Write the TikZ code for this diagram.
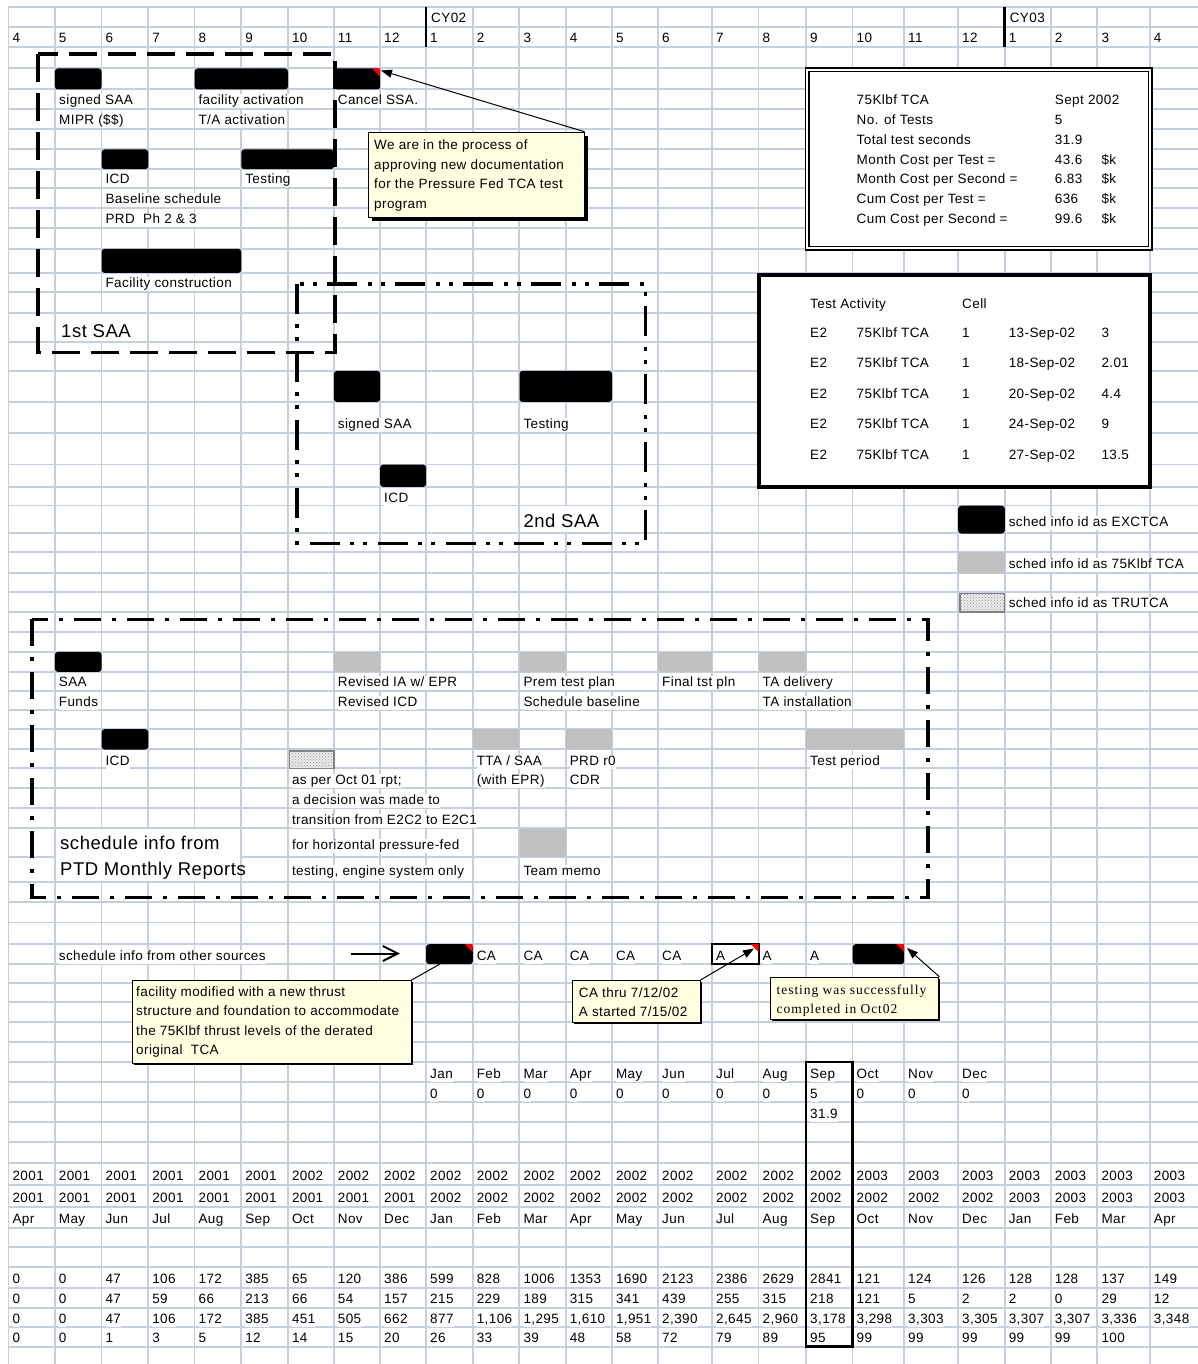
\documentclass[tikz,border=0pt]{standalone}
\usepackage{fontspec}
\setmainfont{Liberation Sans}[LetterSpace=3]
\newfontfamily\serifx{Liberation Serif}[LetterSpace=7]
\usetikzlibrary{arrows.meta,patterns}
\definecolor{gridc}{RGB}{198,207,224}
\definecolor{notey}{RGB}{255,255,225}
\definecolor{barg}{RGB}{192,192,192}
\newcommand\fs{\fontsize{13.5}{16}\selectfont}
\newcommand\fbig{\fontsize{18.5}{22}\selectfont}
\newcommand\fser{\serifx\fontsize{13.5}{16}\selectfont}
\newcounter{tn}
\newcommand\putt[3]{\stepcounter{tn}\node[txt] (t\arabic{tn}) at (#1,#2) {#3};}
\newcommand\putn[3]{\stepcounter{tn}\node[ntxt] (t\arabic{tn}) at (#1,#2) {#3};}
\newcommand\putbig[3]{\stepcounter{tn}\node[bigtxt] (t\arabic{tn}) at (#1,#2) {#3};}
\newcommand\putbar[6]{\node[#2, minimum width=#5pt-#3pt, minimum height=#6pt-#4pt] (#1) at (#3,#4) {};}
\newcommand\flagat[2]{\fill[red] (#1-8,#2) -- (#1,#2) -- (#1,#2+8) -- cycle;}
\def\colx{{8.4,54.7,101.4,148.1,194.4,241.1,287.8,333.7,380,426,472.6,519.3,565.6,611.8,658,711.9,758.5,806,852.5,904,958,1004.6,1050.7,1097.3,1149.7}}
\begin{document}
\begin{tikzpicture}[x=1pt,y=-1pt,
 gridl/.style={draw=gridc, line width=1.8pt},
 txt/.style={anchor=base west, inner sep=0pt, font=\fs, fill=white, text height=10.5pt, text depth=3.5pt},
 ntxt/.style={anchor=base west, inner sep=0pt, font=\fs},
 bigtxt/.style={anchor=base west, inner sep=0pt, font=\fbig},
 blk/.style={fill=black, rounded corners=3pt, inner sep=0pt, anchor=north west},
 gry/.style={fill=barg, rounded corners=2pt, inner sep=0pt, anchor=north west},
 patb/.style={draw=black!50, line width=1.5pt, fill=black!8, postaction={pattern=crosshatch dots, pattern color=black!40}, inner sep=0pt, anchor=north west},
 note/.style={draw=black, line width=1pt, fill=notey, inner sep=0pt, anchor=north west},
 pointer/.style={draw=black, line width=1pt, -{Triangle[length=11pt,width=8pt]}},
 boxl/.style={draw=black, inner sep=0pt, anchor=north west, fill=white}]
\useasboundingbox (0,0) rectangle (1198,1364);
\fill[white] (0,0) rectangle (1198,1364);
% ---------- grid ----------
\foreach \x in {8.4,54.7,101.4,148.1,194.4,241.1,287.8,333.7,380,426,472.6,519.3,565.6,611.8,658,711.9,758.5,806,852.5,904,958,1004.6,1050.7,1097.3,1149.7}
  \draw[gridl] (\x,7.3) -- (\x,1364);
\foreach \y in {7.3,26.7,46.7,68.3,89.3,109.3,129.3,149.3,169,188.3,208.3,228.3,248.7,272.7,292,312.7,341.7,370.7,401.7,433.3,464.5,486.7,505.5,533.3,552,573.3,591.7,611.7,631.7,651.7,671.7,691,710,729,749.3,768.3,788.3,808.3,828.3,856.7,881.7,901.7,922.5,944,964,983,1002,1022,1042,1062,1082,1102,1122,1142,1163.3,1185,1206.7,1228.3,1246.7,1266.7,1288.3,1308.3,1326.7,1346.7}
  \draw[gridl] (8.4,\y) -- (1198,\y);
\draw[line width=2.5pt] (426,7.3) -- (426,46.7);
\draw[line width=2.5pt] (1004.6,7.3) -- (1004.6,46.7);
% white label areas
\fill[white] (55.6,313.6) rectangle (147.2,340.8);
\fill[white] (520.2,506.4) rectangle (610.9,532.4);
\fill[white] (55.6,829.2) rectangle (240.2,880.8);
% ---------- header ----------
\putt{431}{22.2}{CY02}
\putt{1009.6}{22.2}{CY03}
\foreach \v [count=\i from 0] in {4,5,6,7,8,9,10,11,12,1,2,3,4,5,6,7,8,9,10,11,12,1,2,3,4}
  {\pgfmathsetmacro\xx{\colx[\i]+4}\node[txt] (hd\i) at (\xx,42.2) {\v};}
% ---------- boxes ----------
\node[boxl, double, double distance=2pt, line width=1.5pt, minimum width=342.8pt, minimum height=178.7pt] (stats) at (806.5,69) {};
\node[boxl, line width=3.5pt, minimum width=391.3pt, minimum height=211.7pt] (tests) at (757,273.3) {};
% ---------- bars: 1st SAA ----------
\putbar{sbar1}{blk}{54.7}{68.3}{101.4}{89.3}
\putbar{fbar}{blk}{194.4}{68.3}{287.8}{89.3}
\putbar{cbar}{blk}{333.7}{68.3}{380}{89.3}
\putbar{icd1}{blk}{101.4}{149.3}{148.1}{169}
\putbar{test1}{blk}{241.1}{149.3}{333.7}{169}
\putbar{fcon}{blk}{101.4}{248.7}{241.1}{272.7}
% 2nd SAA
\putbar{sbar2}{blk}{333.7}{370.7}{380}{401.7}
\putbar{test2}{blk}{519.3}{370.7}{611.8}{401.7}
\putbar{icd2}{blk}{380}{464.5}{426}{486.7}
% legend
\putbar{lg1}{blk}{958}{505.5}{1004.6}{533.3}
\putbar{lg2}{gry}{958}{552}{1004.6}{573.3}
\putbar{lg3}{patb}{959}{592.5}{1003.8}{611}
% PTD
\putbar{saa3}{blk}{54.7}{651.7}{101.4}{671.7}
\putbar{g1}{gry}{333.7}{651.7}{380}{671.7}
\putbar{g2}{gry}{519.3}{651.7}{565.6}{671.7}
\putbar{g3}{gry}{658}{651.7}{711.9}{671.7}
\putbar{g4}{gry}{758.5}{651.7}{806}{671.7}
\putbar{icd3}{blk}{101.4}{729}{148.1}{749.3}
\putbar{tru}{patb}{288.6}{750}{333}{767.6}
\putbar{g5}{gry}{472.6}{729}{519.3}{749.3}
\putbar{g6}{gry}{565.6}{729}{611.8}{749.3}
\putbar{g7}{gry}{806}{729}{904}{749.3}
\putbar{g8}{gry}{519.3}{828.3}{565.6}{856.7}
% other sources
\putbar{ob1}{blk}{426}{944}{472.6}{964}
\putbar{ob2}{blk}{852.5}{944}{904}{964}
\flagat{380}{68.3}
\flagat{472.6}{944}
\flagat{904}{944}
% ---------- texts: 1st SAA ----------
\putt{59}{104.8}{signed SAA}
\putt{59}{124.8}{MIPR (\$\$)}
\putt{198.4}{104.8}{facility activation}
\putt{198.4}{124.8}{T/A activation}
\putt{337.7}{104.8}{Cancel SSA.}
\putt{105.4}{183.8}{ICD}
\putt{105.4}{203.8}{Baseline schedule}
\putt{105.4}{223.8}{PRD\ \ Ph 2 \& 3}
\putt{245.1}{183.8}{Testing}
\putt{105.4}{287.5}{Facility construction}
\putbig{61}{337}{1st SAA}
% stats
\putt{856.5}{104.8}{75Klbf TCA}
\putt{1054.7}{104.8}{Sept 2002}
\putt{856.5}{124.8}{No. of Tests}
\putt{1054.7}{124.8}{5}
\putt{856.5}{144.8}{Total test seconds}
\putt{1054.7}{144.8}{31.9}
\putt{856.5}{164.5}{Month Cost per Test =}
\putt{1054.7}{164.5}{43.6}
\putt{1101.3}{164.5}{\$k}
\putt{856.5}{183.8}{Month Cost per Second =}
\putt{1054.7}{183.8}{6.83}
\putt{1101.3}{183.8}{\$k}
\putt{856.5}{203.8}{Cum Cost per Test =}
\putt{1054.7}{203.8}{636}
\putt{1101.3}{203.8}{\$k}
\putt{856.5}{223.8}{Cum Cost per Second =}
\putt{1054.7}{223.8}{99.6}
\putt{1101.3}{223.8}{\$k}
% test activity
\putt{810}{308}{Test Activity}
\putt{962}{308}{Cell}
\foreach \yy/\dd/\vv [count=\k] in {337/13-Sep-02/3, 367/18-Sep-02/2.01, 398/20-Sep-02/4.4, 428/24-Sep-02/9, 459/27-Sep-02/13.5}{
  \node[txt] (ta\k) at (810,\yy) {E2};
  \node[txt] (tb\k) at (856.5,\yy) {75Klbf TCA};
  \node[txt] (tc\k) at (962,\yy) {1};
  \node[txt] (td\k) at (1008.6,\yy) {\dd};
  \node[txt] (te\k) at (1101.3,\yy) {\vv};
}
% 2nd SAA
\putt{337.7}{428}{signed SAA}
\putt{523.3}{428}{Testing}
\putt{384}{502}{ICD}
\putbig{523.3}{527}{2nd SAA}
% legend
\putt{1008.6}{526}{sched info id as EXCTCA}
\putt{1008.6}{568}{sched info id as 75Klbf TCA}
\putt{1008.6}{607}{sched info id as TRUTCA}
% PTD
\putt{58.7}{686}{SAA}
\putt{58.7}{706}{Funds}
\putt{337.7}{686}{Revised IA w/ EPR}
\putt{337.7}{706}{Revised ICD}
\putt{523.3}{686}{Prem test plan}
\putt{523.3}{706}{Schedule baseline}
\putt{662}{686}{Final tst pln}
\putt{762.5}{686}{TA delivery}
\putt{762.5}{706}{TA installation}
\putt{105.4}{765}{ICD}
\putt{291.8}{784}{as per Oct 01 rpt;}
\putt{291.8}{804}{a decision was made to}
\putt{291.8}{824}{transition from E2C2 to E2C1}
\putt{291.8}{849}{for horizontal pressure-fed}
\putt{291.8}{875}{testing, engine system only}
\putt{476.6}{765}{TTA / SAA}
\putt{476.6}{784}{(with EPR)}
\putt{569.6}{765}{PRD r0}
\putt{569.6}{784}{CDR}
\putt{810}{765}{Test period}
\putt{523.3}{875}{Team memo}
\putbig{60}{849}{schedule info from}
\putbig{60}{875}{PTD Monthly Reports}
% other sources
\putt{58.7}{960}{schedule info from other sources}
\foreach \v [count=\i from 10] in {CA,CA,CA,CA,CA,A,A,A}
  {\pgfmathsetmacro\xx{\colx[\i]+4}\node[txt] (ca\i) at (\xx,960) {\v};}
\draw[line width=2pt] (711.9,944) rectangle (758.5,964);
\flagat{758.5}{944}
\coordinate (arrS) at (351,953.5);
\coordinate (arrE) at (400,953.5);
\draw[line width=2pt, -{Straight Barb[length=15pt,width=15pt]}] (arrS) -- (arrE);
% months
\foreach \m [count=\i from 9] in {Jan,Feb,Mar,Apr,May,Jun,Jul,Aug,Sep,Oct,Nov,Dec}
  {\pgfmathsetmacro\xx{\colx[\i]+4}\node[txt] (mo\i) at (\xx,1078) {\m};}
\foreach \v [count=\i from 9] in {0,0,0,0,0,0,0,0,5,0,0,0}
  {\pgfmathsetmacro\xx{\colx[\i]+4}\node[txt] (mv\i) at (\xx,1098) {\v};}
\putt{810}{1118}{31.9}
% bottom table
\foreach \v [count=\i from 0] in {2001,2001,2001,2001,2001,2001,2002,2002,2002,2002,2002,2002,2002,2002,2002,2002,2002,2002,2003,2003,2003,2003,2003,2003,2003}
  {\pgfmathsetmacro\xx{\colx[\i]+4}\node[txt] (ya\i) at (\xx,1180) {\v};}
\foreach \v [count=\i from 0] in {2001,2001,2001,2001,2001,2001,2001,2001,2001,2002,2002,2002,2002,2002,2002,2002,2002,2002,2002,2002,2002,2003,2003,2003,2003}
  {\pgfmathsetmacro\xx{\colx[\i]+4}\node[txt] (yb\i) at (\xx,1202) {\v};}
\foreach \v [count=\i from 0] in {Apr,May,Jun,Jul,Aug,Sep,Oct,Nov,Dec,Jan,Feb,Mar,Apr,May,Jun,Jul,Aug,Sep,Oct,Nov,Dec,Jan,Feb,Mar,Apr}
  {\pgfmathsetmacro\xx{\colx[\i]+4}\node[txt] (ym\i) at (\xx,1223) {\v};}
\foreach \v [count=\i from 0] in {0,0,47,106,172,385,65,120,386,599,828,1006,1353,1690,2123,2386,2629,2841,121,124,126,128,128,137,149}
  {\pgfmathsetmacro\xx{\colx[\i]+4}\node[txt] (ra\i) at (\xx,1283) {\v};}
\foreach \v [count=\i from 0] in {0,0,47,59,66,213,66,54,157,215,229,189,315,341,439,255,315,218,121,5,2,2,0,29,12}
  {\pgfmathsetmacro\xx{\colx[\i]+4}\node[txt] (rb\i) at (\xx,1303) {\v};}
\foreach \v [count=\i from 0] in {0,0,47,106,172,385,451,505,662,877,{1,106},{1,295},{1,610},{1,951},{2,390},{2,645},{2,960},{3,178},{3,298},{3,303},{3,305},{3,307},{3,307},{3,336},{3,348}}
  {\pgfmathsetmacro\xx{\colx[\i]+4}\node[txt] (rc\i) at (\xx,1323) {\v};}
\foreach \v [count=\i from 0] in {0,0,1,3,5,12,14,15,20,26,33,39,48,58,72,79,89,95,99,99,99,99,99,100}
  {\pgfmathsetmacro\xx{\colx[\i]+4}\node[txt] (rd\i) at (\xx,1342) {\v};}
\draw[line width=2.5pt] (806,1062) rectangle (852.5,1346.7);
% ---------- group frames ----------
\draw[line width=3.8pt, dash pattern=on 28pt off 11pt] (38.3,54.3) rectangle (335,352.5);
\draw[line width=3.5pt, dash pattern=on 30pt off 10pt on 4pt off 9pt on 4pt off 11pt] (297,284) rectangle (645.5,543.5);
\draw[line width=3.5pt, dash pattern=on 27pt off 11pt on 4pt off 11pt] (32,619.3) rectangle (928.2,897.3);
% ---------- callouts ----------
\fill[black] (371.5,135.7) rectangle (587.5,220.7);
\node[note, minimum width=216pt, minimum height=85pt] (note1) at (367.5,131.7) {};
\putn{374}{150}{We are in the process of}
\putn{374}{169.3}{approving new documentation}
\putn{374}{189}{for the Pressure Fed TCA test}
\putn{374}{208.3}{program}
\coordinate (cancTip) at (381,70.5);
\draw[pointer] (note1.north east) -- (cancTip);

\fill[black] (134,982) rectangle (412.6,1064.7);
\node[note, minimum width=278.6pt, minimum height=82.7pt] (note2) at (132,980) {};
\putn{136}{996}{facility modified with a new thrust}
\putn{136}{1015.7}{structure and foundation to accommodate}
\putn{136}{1035.7}{the 75Klbf thrust levels of the derated}
\putn{136}{1054.3}{original\ \ TCA}
\coordinate (ob1Bot) at (440,964);
\draw[line width=1pt] (note2.north east) -- (ob1Bot);

\fill[black] (574.2,982) rectangle (701.5,1023.7);
\node[note, minimum width=127.3pt, minimum height=41.7pt] (note3) at (572.2,980) {};
\putn{578.7}{997.7}{CA thru 7/12/02}
\putn{578.7}{1016.7}{A started 7/15/02}
\coordinate (aTip) at (754,948.5);
\draw[pointer] (note3.north east) -- (aTip);

\fill[black] (772.3,978.7) rectangle (940.4,1021.3);
\node[note, minimum width=168pt, minimum height=42.6pt] (note4) at (770.3,976.7) {};
\stepcounter{tn}\node[anchor=base west, inner sep=0pt, font=\fser] (t\arabic{tn}) at (776.5,994.5) {testing was successfully};
\stepcounter{tn}\node[anchor=base west, inner sep=0pt, font=\fser] (t\arabic{tn}) at (776.5,1013) {completed in Oct02};
\coordinate (sTip) at (907,948);
\draw[pointer] (note4.north east) -- (sTip);
\end{tikzpicture}
\end{document}
